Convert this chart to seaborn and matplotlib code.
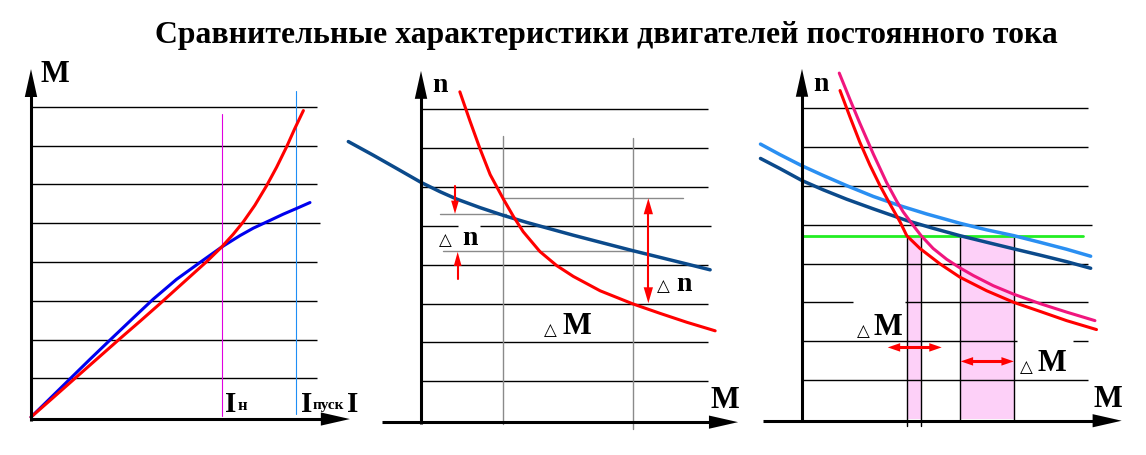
import numpy as np
import pandas as pd
import matplotlib
matplotlib.use("Agg")
import matplotlib.pyplot as plt
import seaborn as sns
from matplotlib.patches import Polygon, Rectangle

sns.set_theme(style="white")
plt.rcParams['font.family'] = ['Liberation Serif', 'DejaVu Sans']

W, H = 1146, 456
TITLE = "Сравнительные характеристики двигателей постоянного тока"

# ---------------- data (panel units: 1 unit = one grid step) ----------------
# Panel 1: M(I)
p1_grid_y = [1, 2, 3, 4, 5, 6, 7, 8]
p1_grid_end = [7.37, 7.37, 7.37, 7.37, 7.45, 7.37, 7.37, 7.37]
p1_red_x = [0, 0.49, 0.92, 1.61, 2.29, 2.81, 3.32, 3.93, 4.53, 4.91, 5.21, 5.47, 5.77, 6.07, 6.33, 6.59, 6.80, 7.02]
p1_red_y = [0, 0.43, 0.81, 1.42, 2.02, 2.47, 2.92, 3.47, 4.01, 4.38, 4.71, 5.03, 5.46, 5.96, 6.44, 6.97, 7.44, 7.90]
p1_blue_x = [0, 0.49, 1.01, 1.52, 2.04, 2.64, 3.15, 3.75, 4.36, 4.91, 5.39, 5.73, 6.16, 6.50, 6.85, 7.19]
p1_blue_y = [0, 0.48, 0.99, 1.49, 1.99, 2.56, 3.04, 3.55, 3.99, 4.38, 4.68, 4.87, 5.07, 5.23, 5.38, 5.53]
p1_i_nom = 4.91      # I_н
p1_i_start = 6.84    # I_пуск

# Panel 2: n(M), shunt vs series
p2_grid_y = [1, 2, 3, 4, 5, 6, 7, 8]
p2_grid_end = [7.38, 7.38, 7.38, 7.38, 7.46, 7.38, 7.38, 7.38]
p2_blue_x = [-1.87, -1.23, -0.63, 0, 0.49, 0.92, 1.52, 2.12, 2.72, 3.41, 3.92, 4.61, 5.46, 6.15, 6.84, 7.44]
p2_blue_y = [7.17, 6.82, 6.48, 6.12, 5.88, 5.69, 5.47, 5.27, 5.09, 4.90, 4.76, 4.58, 4.36, 4.19, 4.02, 3.87]
p2_red_x = [1.00, 1.26, 1.52, 1.78, 2.12, 2.38, 2.63, 3.06, 3.49, 3.92, 4.61, 5.46, 6.15, 6.84, 7.57]
p2_red_y = [8.45, 7.70, 6.98, 6.32, 5.69, 5.24, 4.85, 4.34, 3.98, 3.70, 3.33, 2.99, 2.75, 2.52, 2.30]
p2_m1, p2_m2 = 2.12, 5.46
p2_n_red1, p2_n_red2 = 5.71, 3.01
p2_n_blue1, p2_n_blue2 = 5.30, 4.35

# Panel 3: n(M), two pairs of curves
p3_grid_y = [1, 2, 3, 4, 5, 6, 7, 8]
p3_grid_end = [7.38, 7.38, 7.38, 7.38, 7.47, 7.38, 7.38, 7.38]
p3_lblue_x = [-1.07, -0.57, 0, 0.55, 1.15, 1.84, 2.53, 3.21, 4.07, 4.76, 5.46, 6.13, 6.82, 7.44]
p3_lblue_y = [7.08, 6.81, 6.52, 6.27, 6.01, 5.73, 5.49, 5.28, 5.04, 4.87, 4.72, 4.55, 4.37, 4.19]
p3_dblue_x = [-1.07, -0.57, 0, 0.55, 1.15, 1.84, 2.70, 3.38, 4.07, 4.76, 5.46, 6.13, 6.82, 7.44]
p3_dblue_y = [6.71, 6.45, 6.14, 5.90, 5.66, 5.41, 5.11, 4.91, 4.72, 4.55, 4.38, 4.22, 4.05, 3.88]
p3_red_x = [0.98, 1.24, 1.49, 1.75, 2.01, 2.27, 2.53, 2.70, 3.04, 3.56, 4.07, 4.76, 5.46, 6.13, 6.82, 7.59]
p3_red_y = [8.46, 7.77, 7.13, 6.54, 6.01, 5.53, 5.07, 4.72, 4.39, 3.99, 3.65, 3.30, 3.00, 2.77, 2.53, 2.30]
p3_mag_x = [0.96, 1.24, 1.49, 1.84, 2.18, 2.44, 2.61, 2.83, 3.07, 3.38, 3.73, 4.07, 4.42, 4.93, 5.46, 6.13, 6.82, 7.55]
p3_mag_y = [8.91, 8.22, 7.62, 6.82, 6.09, 5.61, 5.33, 5.03, 4.72, 4.39, 4.11, 3.89, 3.69, 3.43, 3.21, 2.97, 2.75, 2.53]
p3_n_level = 4.72
p3_band1 = (2.70, 3.07)
p3_band2 = (4.07, 5.46)

# ---------------- styles ----------------
RED = "#ff0000"
BLUE = "#0000ee"
NAVY = "#0b4a8b"
LBLUE = "#2a8ff2"
MAG = "#f0167e"
GREEN = "#22ee22"
PINK = "#fdd0f8"
GRAY = "#8a8a8a"

fig = plt.figure(figsize=(W / 100, H / 100), dpi=100)
fig.patch.set_facecolor("white")


def make_ax(ox, oy, u):
    ax = fig.add_axes([0, 0, 1, 1])
    ax.set_xlim((0 - ox) / u, (W - ox) / u)
    ax.set_ylim((oy - H) / u, (oy - 0) / u)
    ax.set_facecolor("none")
    ax.axis("off")
    return ax


def head(ax, tip, d, length, hw, color, z=5):
    tip = np.array(tip, float)
    d = np.array(d, float)
    d = d / np.linalg.norm(d)
    p = np.array([-d[1], d[0]])
    base = tip - d * length
    ax.add_patch(Polygon([tip, base + p * hw, base - p * hw], closed=True,
                         color=color, lw=0, zorder=z))


def axes_arrows(ax, xstart, xtip, ytip):
    yb = -0.05
    ax.plot([xstart, xtip - 0.6], [yb, yb], color="black", lw=2.2, zorder=6, solid_capstyle="butt")
    ax.plot([0, 0], [yb - 0.04, ytip - 0.6], color="black", lw=2.2, zorder=6, solid_capstyle="butt")
    head(ax, (xtip, yb), (1, 0), 0.75, 0.17, "black", z=6)
    head(ax, (0, ytip), (0, 1), 0.72, 0.16, "black", z=6)


def grid(ax, ys, ends, gaps=None):
    gaps = gaps or {}
    for y, e in zip(ys, ends):
        segs = [(0, e)]
        if y in gaps:
            segs = []
            start = 0
            for g0, g1 in gaps[y]:
                segs.append((start, g0))
                start = g1
            segs.append((start, e))
        for a, b in segs:
            ax.plot([a, b], [y, y], color="black", lw=1.0, zorder=2, solid_capstyle="butt")


def curve(ax, xs, ys, color, lw=2.2, z=4):
    df = pd.DataFrame({"x": xs, "y": ys})
    sns.lineplot(data=df, x="x", y="y", ax=ax, color=color, lw=lw, sort=False,
                 estimator=None, legend=False, zorder=z)


def ftext(px, py, s, size, ha="center", va="baseline", family=None, bold=True):
    fig.text(px / W, 1 - py / H, s, fontsize=size, ha=ha, va=va,
             fontweight="bold" if bold else "normal",
             family=family or ["Liberation Serif", "DejaVu Sans"], color="black")


def tri(px, py, size=12):
    ftext(px, py, "△", size, family=["DejaVu Sans"], bold=False)


# ---------------- Panel 1 ----------------
ax1 = make_ax(31, 418.1, 38.8)
grid(ax1, p1_grid_y, p1_grid_end)
ax1.plot([p1_i_nom, p1_i_nom], [0.02, 7.82], color="#e000e0", lw=0.8, zorder=3)
ax1.plot([p1_i_start, p1_i_start], [0.09, 8.41], color="#1e8ef5", lw=0.8, zorder=3)
curve(ax1, p1_blue_x, p1_blue_y, BLUE)
curve(ax1, p1_red_x, p1_red_y, RED)
axes_arrows(ax1, 0, 8.22, 8.97)
ftext(55, 82, "M", 22)
ftext(230.5, 412, "I", 21)
ftext(242, 410, "н", 12)
ftext(306.5, 412, "I", 21)
ftext(328.5, 409, "пуск", 11)
ftext(352.5, 412, "I", 21)

# ---------------- Panel 2 ----------------
ax2 = make_ax(421, 421.2, 38.86)
grid(ax2, p2_grid_y, p2_grid_end, gaps={5: [(0.96, 1.52)]})
ax2.plot([p2_m1, p2_m1], [-0.09, 7.32], color=GRAY, lw=1.0, zorder=3)
ax2.plot([p2_m2, p2_m2], [-0.22, 7.26], color=GRAY, lw=1.0, zorder=3)
ax2.plot([p2_m1, 6.74], [p2_n_red1, p2_n_red1], color=GRAY, lw=1.0, zorder=3)
ax2.plot([0.49, p2_m1 + 0.08], [p2_n_blue1, p2_n_blue1], color=GRAY, lw=1.0, zorder=3)
ax2.plot([0.57, p2_m2], [p2_n_blue2, p2_n_blue2], color=GRAY, lw=1.0, zorder=3)
curve(ax2, p2_blue_x, p2_blue_y, NAVY, lw=2.5)
curve(ax2, p2_red_x, p2_red_y, RED)
axes_arrows(ax2, -1.0, 8.16, 8.99)
# red delta-n arrows
ax2.plot([0.875, 0.875], [6.03, p2_n_blue1 + 0.3], color=RED, lw=1.5, zorder=5)
head(ax2, (0.875, p2_n_blue1 + 0.01), (0, -1), 0.34, 0.10, RED)
ax2.plot([0.944, 0.944], [3.63, p2_n_blue2 - 0.3], color=RED, lw=1.5, zorder=5)
head(ax2, (0.944, p2_n_blue2 - 0.02), (0, 1), 0.36, 0.10, RED)
ax2.plot([5.85, 5.85], [p2_n_red2 + 0.35, p2_n_red1 - 0.35], color=RED, lw=1.5, zorder=5)
head(ax2, (5.85, p2_n_red1), (0, 1), 0.41, 0.12, RED)
head(ax2, (5.85, p2_n_red2), (0, -1), 0.41, 0.12, RED)
ftext(440, 92, "n", 20)
ftext(725, 408, "M", 22)
tri(445.5, 245)
ftext(470, 245, "n", 20)
tri(663, 291)
ftext(683.5, 291, "n", 20)
tri(550.5, 335)
ftext(576.5, 334, "M", 22)

# ---------------- Panel 3 ----------------
ax3 = make_ax(802, 419.8, 38.8)
for b0, b1 in (p3_band1, p3_band2):
    ax3.add_patch(Rectangle((b0, 0), b1 - b0, p3_n_level, color=PINK, lw=0, zorder=1))
grid(ax3, p3_grid_y, p3_grid_end, gaps={3: [(1.32, 2.65)], 2: [(5.54, 6.98)]})
ax3.plot([p3_band1[0]] * 2, [-0.18, p3_n_level], color="black", lw=1.0, zorder=3)
ax3.plot([p3_band1[1]] * 2, [-0.18, p3_n_level], color="black", lw=1.0, zorder=3)
ax3.plot([p3_band2[0]] * 2, [-0.02, p3_n_level], color="black", lw=1.0, zorder=3)
ax3.plot([p3_band2[1]] * 2, [-0.02, p3_n_level], color="black", lw=1.0, zorder=3)
ax3.plot([0, 7.23], [p3_n_level, p3_n_level], color=GREEN, lw=2.0, zorder=3)
curve(ax3, p3_lblue_x, p3_lblue_y, LBLUE, lw=2.5)
curve(ax3, p3_dblue_x, p3_dblue_y, NAVY, lw=2.5)
curve(ax3, p3_red_x, p3_red_y, RED)
curve(ax3, p3_mag_x, p3_mag_y, MAG)
axes_arrows(ax3, -1.01, 8.24, 9.02)
# delta-M arrows
ax3.plot([2.21 + 0.2, 3.60 - 0.2], [1.84, 1.84], color=RED, lw=2.2, zorder=5)
head(ax3, (2.21, 1.84), (-1, 0), 0.32, 0.11, RED)
head(ax3, (3.60, 1.84), (1, 0), 0.32, 0.11, RED)
ax3.plot([4.09 + 0.2, 5.46 - 0.2], [1.48, 1.48], color=RED, lw=2.2, zorder=5)
head(ax3, (4.09, 1.48), (-1, 0), 0.32, 0.11, RED)
head(ax3, (5.46, 1.48), (1, 0), 0.32, 0.11, RED)
ftext(821, 91, "n", 20)
ftext(1108, 407, "M", 22)
tri(863.3, 336)
ftext(888, 335, "M", 22)
tri(1026.5, 372)
ftext(1052, 371, "M", 22)

# ---------------- title ----------------
ftext(606, 43.5, TITLE, 22.9)

fig.savefig("out.png", dpi=100, facecolor="white")
